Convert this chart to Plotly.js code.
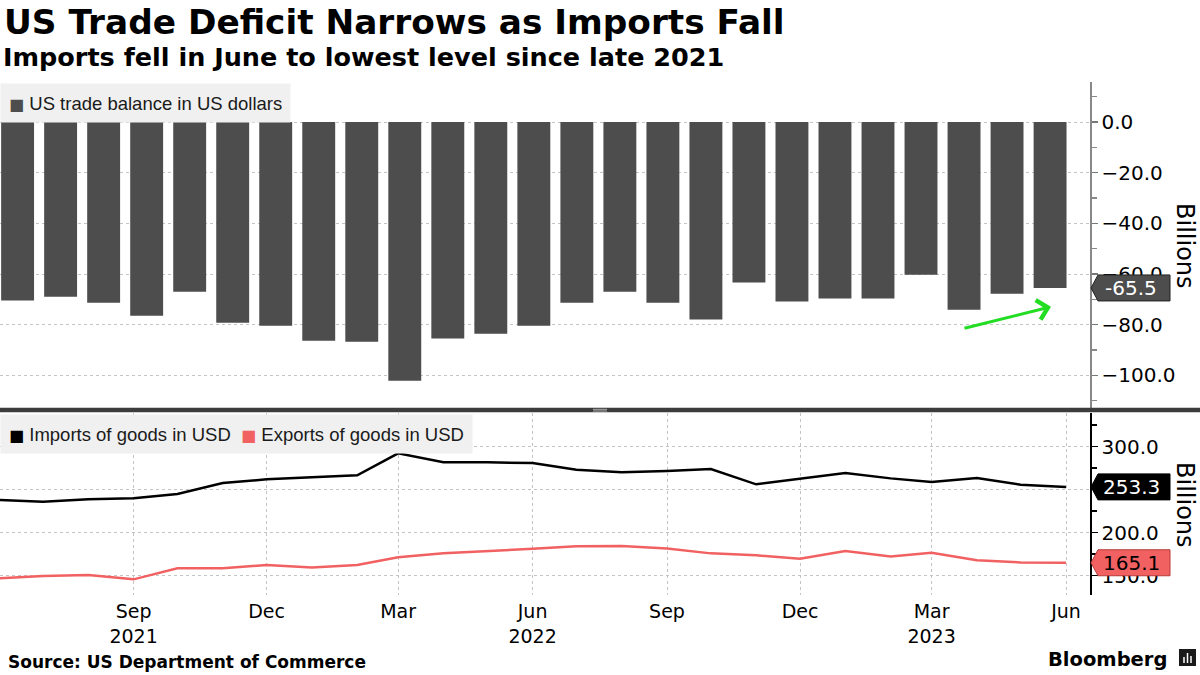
<!DOCTYPE html>
<html>
<head>
<meta charset="utf-8">
<script src="https://cdn.plot.ly/plotly-3.0.1.min.js"></script>
<style>html,body{margin:0;padding:0;background:#fff;}#chart{width:1200px;height:675px;}</style>
</head>
<body>
<div id="chart"></div>
<script>
// ---- data ----
const months = ['2021-06-01','2021-07-01','2021-08-01','2021-09-01','2021-10-01','2021-11-01','2021-12-01',
  '2022-01-01','2022-02-01','2022-03-01','2022-04-01','2022-05-01','2022-06-01','2022-07-01','2022-08-01',
  '2022-09-01','2022-10-01','2022-11-01','2022-12-01','2023-01-01','2023-02-01','2023-03-01','2023-04-01',
  '2023-05-01','2023-06-01'];
const tradeBalance = [-70.5,-69.0,-71.3,-76.5,-67.0,-79.2,-80.4,-86.3,-86.7,-102.1,-85.5,-83.6,-80.4,-71.3,
  -67.0,-71.3,-78.0,-63.4,-70.9,-69.7,-69.7,-60.3,-74.1,-67.8,-65.5];
const importsGoods = [238.0,236.0,238.8,240.0,245.0,257.8,262.1,264.4,266.7,292.3,281.9,281.9,281.0,273.3,
  270.2,271.7,274.1,256.3,262.4,269.4,263.2,258.9,263.6,255.8,253.3];
const exportsGoods = [147.0,149.7,150.8,145.8,158.6,158.6,162.4,159.7,162.4,171.4,176.0,178.4,181.4,184.2,
  184.5,181.8,176.0,173.7,169.8,178.7,172.5,176.7,167.9,165.5,165.1];
const tickDates = ['2021-09-01','2021-12-01','2022-03-01','2022-06-01','2022-09-01','2022-12-01','2023-03-01','2023-06-01'];
const tickLabels = ['Sep<br>2021','Dec','Mar','Jun<br>2022','Sep','Dec','Mar<br>2023','Jun'];
const seriesNames = ['US trade balance in US dollars','Imports of goods in USD','Exports of goods in USD'];
const titleText = 'US Trade Deficit Narrows as Imports Fall';
const subtitleText = 'Imports fell in June to lowest level since late 2021';
const sourceText = 'Source: US Department of Commerce';

// ---- styling ----
const BAR = '#4d4d4d', IMP = '#000000', EXP = '#f26161';
const TOP = 82, BOT = 595, H = BOT - TOP;
const py = y => (BOT - y) / H;       // pixel row -> paper y
const PW = 1090;                      // plot width in px
const px = x => x / PW;               // pixel col -> paper x
const gridStyle = {showgrid:true, gridcolor:'#c4c4c4', griddash:'dot', gridwidth:1};
const tickFont = {family:'DejaVu Sans', size:20, color:'#000'};
const sq = c => '<span style="font-family:DejaVu Sans;font-size:16px;color:' + c + '">■</span>';

const traces = [
  {type:'bar', x:months, y:tradeBalance, xaxis:'x2', yaxis:'y', marker:{color:BAR}, name:seriesNames[0], hoverinfo:'x+y'},
  {type:'scatter', mode:'lines', x:months, y:importsGoods, xaxis:'x', yaxis:'y2', line:{color:IMP, width:2.5}, name:seriesNames[1]},
  {type:'scatter', mode:'lines', x:months, y:exportsGoods, xaxis:'x', yaxis:'y2', line:{color:EXP, width:2.5}, name:seriesNames[2]}
];

const last = a => a[a.length - 1];

function tag(value, yref, fill, border, textColor) {
  return {
    shape: {type:'path', xref:'paper', yref:yref, xsizemode:'pixel', ysizemode:'pixel', xanchor:1, yanchor:value,
      path:'M1,0 L8,13 L80,13 L80,-13 L8,-13 Z', fillcolor:fill, line:{color:border, width:1}, layer:'above'},
    ann: {xref:'paper', yref:yref, x:1, y:value, xanchor:'center', yanchor:'middle', xshift:41, showarrow:false,
      text:value.toFixed(1), font:{family:'DejaVu Sans', size:20, color:textColor}}
  };
}
const tBal = tag(last(tradeBalance), 'y', BAR, '#222', '#fff');
const tImp = tag(last(importsGoods), 'y2', IMP, '#000', '#fff');
const tExp = tag(last(exportsGoods), 'y2', EXP, '#b83a3a', '#000');

const layout = {
  width:1200, height:675,
  margin:{l:0, r:110, t:TOP, b:675-BOT, pad:0},
  paper_bgcolor:'#fff', plot_bgcolor:'#fff',
  showlegend:false, bargap:0.235,
  font:{family:'DejaVu Sans', color:'#000'},
  xaxis:Object.assign({type:'date', anchor:'y2', domain:[0,1], range:['2021-06-01 14:00','2023-06-17 10:00'],
    tickmode:'array', tickvals:tickDates, ticktext:tickLabels, ticks:'', showline:false, zeroline:false,
    tickfont:{family:'DejaVu Sans', size:19, color:'#000'}, ticklabelstandoff:3}, gridStyle),
  xaxis2:{type:'category', overlaying:'x', anchor:'y', range:[-0.409, 24.928], visible:false, showgrid:false},
  yaxis:Object.assign({domain:[py(407.5),1], anchor:'x', side:'right', range:[-112.7, 15.8], dtick:20, tick0:0,
    tickformat:'.1f', ticks:'outside', ticklen:6, tickwidth:1.5, tickcolor:'#777', showline:true, linecolor:'#888', linewidth:1.5,
    zeroline:false, tickfont:tickFont,
    minor:{dtick:10, ticks:'outside', ticklen:5, tickcolor:'#888', showgrid:false}}, gridStyle),
  yaxis2:Object.assign({domain:[0,py(412.5)], anchor:'x', side:'right', range:[127.6, 339.8], dtick:50, tick0:0,
    tickformat:'.1f', ticks:'outside', ticklen:6, tickwidth:1.5, tickcolor:'#000', showline:true, linecolor:'#000', linewidth:1.5,
    zeroline:false, tickfont:tickFont,
    minor:{dtick:25, ticks:'outside', ticklen:5, tickcolor:'#000', showgrid:false}}, gridStyle),
  shapes:[
    {type:'line', xref:'paper', yref:'paper', x0:0, x1:px(1200), y0:py(410), y1:py(410), line:{color:'#3c3c3c', width:4.5}, layer:'above'},
    {type:'line', xref:'paper', yref:'paper', x0:px(593), x1:px(607), y0:py(409.3), y1:py(409.3), line:{color:'#aaa', width:1}, layer:'above'},
    {type:'line', xref:'paper', yref:'paper', x0:px(593), x1:px(607), y0:py(411), y1:py(411), line:{color:'#aaa', width:1}, layer:'above'},
    tBal.shape, tImp.shape, tExp.shape,
    // Bloomberg logo mark
    {type:'rect', xref:'paper', yref:'paper', x0:px(1179), x1:px(1196), y0:py(666), y1:py(649), fillcolor:'#1a1a1a', line:{width:0}},
    {type:'line', xref:'paper', yref:'paper', x0:px(1184), x1:px(1184), y0:py(663), y1:py(657), line:{color:'#fff', width:1.5}},
    {type:'line', xref:'paper', yref:'paper', x0:px(1187.5), x1:px(1187.5), y0:py(663), y1:py(653), line:{color:'#fff', width:1.5}},
    {type:'line', xref:'paper', yref:'paper', x0:px(1191), x1:px(1191), y0:py(663), y1:py(656), line:{color:'#fff', width:1.5}}
  ],
  annotations:[
    {xref:'paper', yref:'paper', x:0, xanchor:'left', xshift:2, y:py(22), yanchor:'middle', showarrow:false,
      text:titleText, font:{family:'DejaVu Sans', size:34.3, weight:700, color:'#000'}},
    {xref:'paper', yref:'paper', x:0, xanchor:'left', xshift:1, y:py(57), yanchor:'middle', showarrow:false,
      text:subtitleText, font:{family:'DejaVu Sans', size:25.5, weight:700, color:'#000'}},
    {xref:'paper', yref:'paper', x:0, xanchor:'left', xshift:6, y:py(662), yanchor:'middle', showarrow:false,
      text:sourceText, font:{family:'DejaVu Sans', size:17, weight:700, color:'#000'}},
    {xref:'paper', yref:'paper', x:px(1169), xanchor:'right', y:py(659), yanchor:'middle', showarrow:false,
      text:'Bloomberg', font:{family:'DejaVu Sans', size:19.5, weight:700, color:'#000'}},
    // legends
    {xref:'paper', yref:'paper', x:0, xanchor:'left', y:py(82.5), yanchor:'top', showarrow:false, align:'left',
      bgcolor:'#f0f0f0', borderpad:8, width:273, height:22,
      text:sq(BAR)+' '+seriesNames[0], font:{family:'Liberation Sans', size:18.5, color:'#1a1a1a'}},
    {xref:'paper', yref:'paper', x:0, xanchor:'left', y:py(414), yanchor:'top', showarrow:false, align:'left',
      bgcolor:'#f0f0f0', borderpad:8, height:22,
      text:sq(IMP)+' '+seriesNames[1]+'&nbsp;&nbsp;'+sq(EXP)+' '+seriesNames[2],
      font:{family:'Liberation Sans', size:18.5, color:'#1a1a1a'}},
    // axis unit labels
    {xref:'paper', yref:'paper', x:px(1185), y:py(246), xanchor:'center', yanchor:'middle', textangle:90, showarrow:false, text:'Billions',
      font:{family:'DejaVu Sans', size:24, color:'#000'}},
    {xref:'paper', yref:'paper', x:px(1185), y:py(505), xanchor:'center', yanchor:'middle', textangle:90, showarrow:false, text:'Billions',
      font:{family:'DejaVu Sans', size:24, color:'#000'}},
    // green arrow
    {xref:'paper', yref:'y', x:px(1051), y:-72.9, ax:-88, ay:22, showarrow:true, text:'',
      arrowcolor:'#22dd22', arrowwidth:3, arrowhead:4, arrowsize:1.3},
    tBal.ann, tImp.ann, tExp.ann
  ]
};

Plotly.newPlot('chart', traces, layout, {staticPlot:true, displayModeBar:false});
</script>
</body>
</html>
